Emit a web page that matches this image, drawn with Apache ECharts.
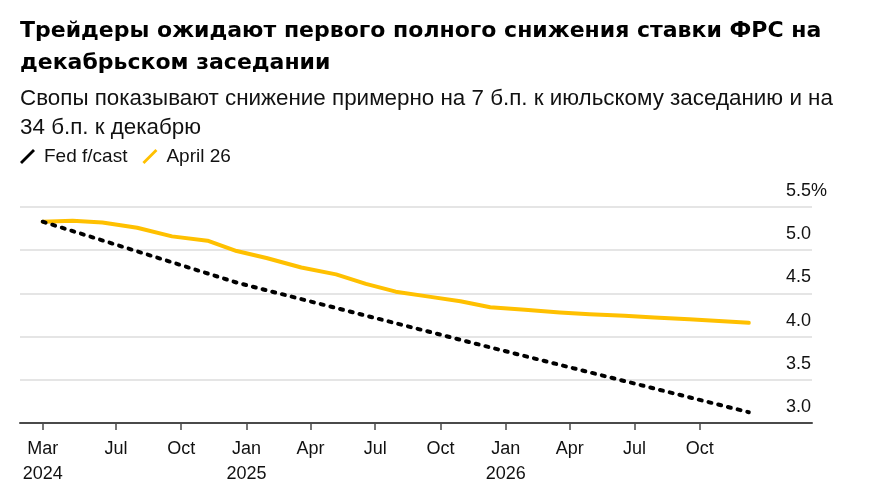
<!DOCTYPE html>
<html>
<head>
<meta charset="utf-8">
<script src="https://cdn.jsdelivr.net/npm/echarts@6/dist/echarts.min.js"></script>
<style>
html,body{margin:0;padding:0;background:#fff;}
#chart{width:879px;height:493px;}
</style>
</head>
<body>
<div id="chart"></div>
<script>
// ---- data ----
const swapDates = ['2024-03-20','2024-05-01','2024-06-12','2024-07-31','2024-09-18','2024-11-07','2024-12-18',
  '2025-01-29','2025-03-19','2025-05-07','2025-06-18','2025-07-30','2025-09-17','2025-10-29','2025-12-10',
  '2026-01-28','2026-03-18','2026-04-29','2026-06-17','2026-07-29','2026-09-16','2026-10-28','2026-12-09'];
const swapRates = [5.33,5.34,5.32,5.26,5.16,5.11,4.99,4.91,4.80,4.72,4.61,4.52,4.46,4.41,4.34,4.31,4.28,4.26,4.24,4.22,4.20,4.18,4.16];
const fedDates = ['2024-03-20','2024-12-18','2025-12-10','2026-12-09'];
const fedRates = [5.33,4.625,3.875,3.125];
const tickDates = ['2024-03-20','2024-07-01','2024-10-01','2025-01-01','2025-04-01','2025-07-01','2025-10-01',
  '2026-01-01','2026-04-01','2026-07-01','2026-10-01'];
const tickLabels = ['Mar\n2024','Jul','Oct','Jan\n2025','Apr','Jul','Oct','Jan\n2026','Apr','Jul','Oct'];
const titleText = 'Трейдеры ожидают первого полного снижения ставки ФРС на\nдекабрьском заседании';
const subText = 'Свопы показывают снижение примерно на 7 б.п. к июльскому заседанию и на\n34 б.п. к декабрю';
const seriesNames = ['Fed f/cast','April 26'];

const ts = s => Date.parse(s + 'T00:00:00Z');
const tickTs = tickDates.map(ts);
const FONT = '"Liberation Sans", Arial, sans-serif';

const chart = echarts.init(document.getElementById('chart'), null, {renderer:'canvas'});
chart.setOption({
  animation:false,
  backgroundColor:'#fff',
  textStyle:{fontFamily:FONT},
  title:{
    text:titleText,
    subtext:subText,
    left:20, top:15, padding:0, itemGap:6,
    textStyle:{fontFamily:'"DejaVu Sans", sans-serif',fontSize:22,fontWeight:'bold',color:'#000',lineHeight:32},
    subtextStyle:{fontFamily:FONT,fontSize:22.4,color:'#111',lineHeight:28.5}
  },
  legend:{
    data:seriesNames,
    left:20, top:147, padding:0,
    itemWidth:15, itemHeight:16, itemGap:15,
    icon:'path://M0,14 L13,1 L15,3 L2,16 Z',
    textStyle:{fontFamily:FONT,fontSize:19,color:'#111',padding:[0,0,0,4]}
  },
  grid:{left:20, right:67, top:207, bottom:70},
  xAxis:{
    type:'value',
    min:ts('2024-02-17'), max:ts('2027-03-08'),
    axisLine:{show:true,lineStyle:{color:'#4a4a4a',width:2}},
    axisTick:{show:true,customValues:tickTs,length:7,lineStyle:{color:'#4a4a4a',width:1.5}},
    axisLabel:{
      customValues:tickTs,
      showMinLabel:true, showMaxLabel:true,
      fontFamily:FONT,fontSize:18,color:'#111',lineHeight:25,margin:14,
      formatter:function(v){
        let best=0,bd=Infinity;
        tickTs.forEach((t,i)=>{const dd=Math.abs(t-v); if(dd<bd){bd=dd;best=i;}});
        return tickLabels[best];
      }
    },
    splitLine:{show:false}
  },
  yAxis:{
    type:'value', position:'right',
    min:3, max:5.5, interval:0.5,
    axisLine:{show:false}, axisTick:{show:false},
    splitLine:{show:true,lineStyle:{color:'#dcdcdc',width:1.5}},
    axisLabel:{
      inside:true, align:'left', verticalAlign:'bottom', margin:26,
      padding:[0,0,7,0],
      fontFamily:FONT,fontSize:18,color:'#111',
      formatter:v=> v===5.5 ? '5.5%' : v.toFixed(1)
    }
  },
  series:[
    {
      name:seriesNames[0], type:'line', z:3,
      data:fedDates.map((d,i)=>[ts(d),fedRates[i]]),
      showSymbol:false, symbol:'none',
      itemStyle:{color:'#000'},
      lineStyle:{color:'#000',width:4,type:[3,7],cap:'round'}
    },
    {
      name:seriesNames[1], type:'line', z:2,
      data:swapDates.map((d,i)=>[ts(d),swapRates[i]]),
      showSymbol:false, symbol:'none',
      itemStyle:{color:'#ffc000'},
      lineStyle:{color:'#ffc000',width:4,cap:'round',join:'round'}
    }
  ]
});
</script>
</body>
</html>
